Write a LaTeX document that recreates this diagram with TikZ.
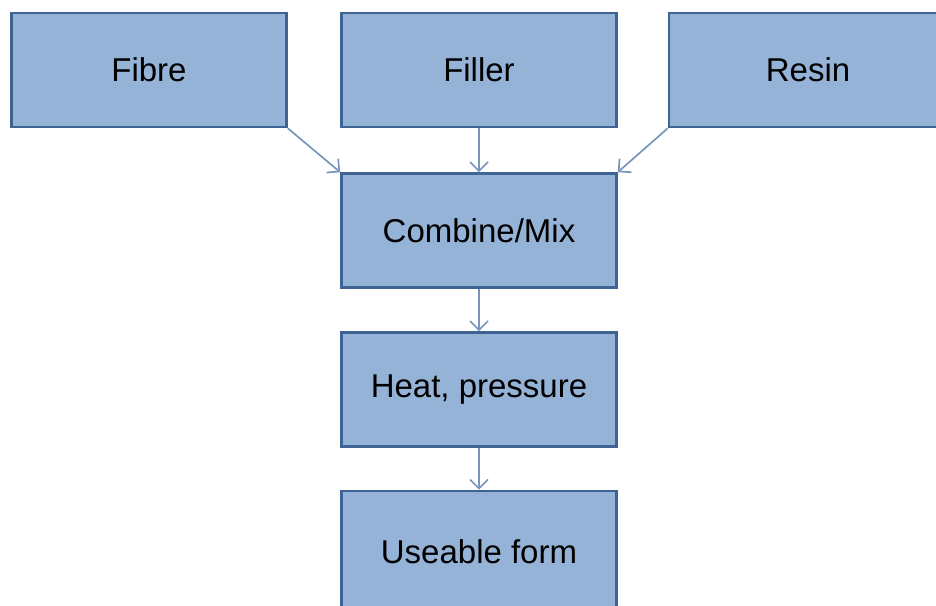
\documentclass[tikz,border=0pt]{standalone}
\usepackage{fontspec}
\setmainfont{Liberation Sans}
\usetikzlibrary{arrows.meta}
\definecolor{boxfill}{HTML}{95B3D7}
\definecolor{boxline}{HTML}{3F6393}
\definecolor{arrowc}{HTML}{7895BC}
\tikzset{
  procbox/.style={draw=boxline, line width=2.6pt, fill=boxfill, minimum width=275pt, minimum height=114pt, inner sep=0pt, font=\fontsize{33}{38}\selectfont, text=black},
  flow/.style={draw=arrowc, line width=1.7pt, -{Straight Barb[length=9pt,width=18pt]}}
}
\begin{document}
\begin{tikzpicture}[x=1pt,y=-1pt]
\useasboundingbox (0,0) rectangle (936,605);
\clip (0,0) rectangle (936,605);
\node[procbox, minimum width=330pt, text width=300pt, align=center] (resin) at (834,70) {\hspace*{-52pt}Resin};
\node[procbox] (fibre) at (149,70) {Fibre};
\node[procbox] (filler) at (479,70) {Filler};
\node[procbox] (mix) at (479,230.5) {Combine/Mix};
\node[procbox] (heat) at (479,389.5) {Heat, pressure};
\node[procbox, minimum height=130pt, text depth=0pt] (use) at (479,556) {\raisebox{8pt}{Useable form}};
\draw[flow] (fibre.south east) -- (mix.north west);
\draw[flow] (filler.south) -- (mix.north);
\draw[flow] (resin.south west) -- (mix.north east);
\draw[flow] (mix.south) -- (heat.north);
\draw[flow] (heat.south) -- (use.north);
\end{tikzpicture}
\end{document}
